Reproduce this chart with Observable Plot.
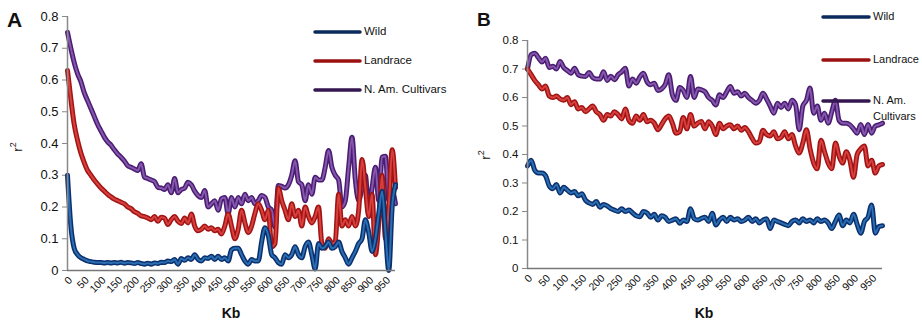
<!DOCTYPE html>
<html><head><meta charset="utf-8">
<script src="https://cdn.jsdelivr.net/npm/d3@7"></script>
<script src="https://cdn.jsdelivr.net/npm/@observablehq/plot@0.6"></script>
<style>
body{margin:0;background:#fff;font-family:"Liberation Sans",Arial,sans-serif}
#wrap{position:relative;width:922px;height:326px;overflow:hidden;background:#fff}
#a{position:absolute;left:0;top:0}
#b{position:absolute;left:461px;top:0}
#ov{position:absolute;left:0;top:0;pointer-events:none}
</style></head><body>
<div id="wrap"><div id="a"></div><div id="b"></div><svg id="ov" width="922" height="326"></svg></div>
<script>
// Distance categories (kb), one every 10 kb
const kb = d3.range(0, 981, 10);
const xTicks = [0,50,100,150,200,250,300,350,400,450,500,550,600,650,700,750,800,850,900,950];
const yTicks = [0,0.1,0.2,0.3,0.4,0.5,0.6,0.7,0.8];
const seriesNames = ["Wild","Landrace","N. Am. Cultivars"];

// Panel A values (r²)
const wildA = [0.30,0.14,0.07,0.05,0.04,0.035,0.03,0.028,0.026,0.025,
0.025,0.024,0.025,0.024,0.025,0.024,0.026,0.023,0.025,0.024,
0.022,0.025,0.022,0.02,0.023,0.02,0.024,0.022,0.026,0.025,
0.03,0.028,0.035,0.02,0.038,0.032,0.04,0.035,0.05,0.035,
0.03,0.04,0.038,0.045,0.035,0.045,0.035,0.04,0.03,0.065,
0.07,0.07,0.05,0.03,0.02,0.035,0.03,0.03,0.09,0.135,
0.11,0.05,0.04,0.025,0.02,0.05,0.04,0.05,0.075,0.05,
0.04,0.075,0.09,0.05,0.005,0.085,0.07,0.075,0.09,0.07,
0.075,0.09,0.06,0.04,0.02,0.04,0.06,0.085,0.1,0.16,
0.12,0.06,0.1,0.18,0.25,0.12,0.0,0.2,0.27];
const landraceA = [0.63,0.54,0.46,0.41,0.37,0.34,0.315,0.30,0.285,0.272,
0.26,0.25,0.24,0.232,0.225,0.22,0.215,0.21,0.2,0.195,
0.185,0.18,0.172,0.17,0.165,0.16,0.17,0.155,0.168,0.165,
0.145,0.16,0.17,0.155,0.148,0.165,0.15,0.178,0.14,0.125,
0.13,0.14,0.13,0.135,0.125,0.13,0.115,0.14,0.178,0.14,
0.10,0.13,0.19,0.15,0.12,0.14,0.18,0.21,0.19,0.16,
0.19,0.075,0.085,0.26,0.22,0.19,0.16,0.21,0.17,0.19,
0.14,0.2,0.17,0.15,0.17,0.2,0.085,0.07,0.1,0.085,
0.09,0.24,0.14,0.16,0.14,0.17,0.14,0.19,0.35,0.26,
0.17,0.24,0.05,0.15,0.3,0.1,0.2,0.38,0.26];
const cultivarsA = [0.75,0.70,0.655,0.62,0.595,0.56,0.535,0.51,0.485,0.46,
0.44,0.42,0.405,0.395,0.38,0.367,0.357,0.345,0.33,0.325,
0.32,0.315,0.336,0.294,0.29,0.285,0.28,0.262,0.26,0.255,
0.27,0.245,0.29,0.245,0.255,0.26,0.278,0.27,0.25,0.236,
0.23,0.252,0.2,0.21,0.22,0.19,0.226,0.23,0.178,0.23,
0.2,0.23,0.21,0.24,0.22,0.23,0.21,0.22,0.236,0.23,
0.2,0.19,0.136,0.268,0.265,0.26,0.27,0.3,0.346,0.28,
0.27,0.22,0.27,0.24,0.294,0.285,0.285,0.325,0.378,0.325,
0.3,0.285,0.2,0.22,0.325,0.42,0.285,0.22,0.26,0.3,
0.19,0.26,0.325,0.22,0.357,0.36,0.22,0.25,0.21];

// Panel B values (r²)
const wildB = [0.36,0.38,0.345,0.335,0.335,0.325,0.29,0.28,0.295,0.265,
0.285,0.275,0.265,0.27,0.255,0.262,0.24,0.23,0.225,0.235,
0.215,0.225,0.22,0.21,0.205,0.2,0.21,0.2,0.205,0.195,
0.185,0.182,0.2,0.195,0.18,0.19,0.17,0.185,0.18,0.165,
0.17,0.175,0.159,0.17,0.165,0.21,0.175,0.17,0.176,0.18,
0.165,0.194,0.153,0.17,0.18,0.165,0.18,0.17,0.175,0.165,
0.17,0.18,0.165,0.175,0.16,0.17,0.175,0.14,0.17,0.165,
0.16,0.155,0.15,0.165,0.17,0.16,0.175,0.165,0.17,0.16,
0.175,0.165,0.17,0.16,0.14,0.165,0.188,0.15,0.17,0.16,
0.19,0.155,0.124,0.165,0.18,0.223,0.124,0.147,0.15];
const landraceB = [0.70,0.68,0.66,0.645,0.63,0.64,0.605,0.60,0.605,0.595,
0.59,0.60,0.575,0.585,0.56,0.565,0.55,0.56,0.57,0.55,
0.54,0.52,0.54,0.535,0.55,0.54,0.525,0.56,0.52,0.51,
0.535,0.52,0.54,0.515,0.52,0.51,0.487,0.505,0.525,0.535,
0.51,0.475,0.48,0.53,0.49,0.54,0.5,0.51,0.516,0.49,
0.515,0.5,0.47,0.51,0.49,0.5,0.504,0.49,0.5,0.485,
0.495,0.48,0.457,0.44,0.445,0.485,0.47,0.465,0.48,0.455,
0.46,0.48,0.455,0.47,0.43,0.405,0.44,0.487,0.42,0.37,
0.35,0.45,0.41,0.37,0.35,0.44,0.395,0.37,0.41,0.38,
0.32,0.40,0.42,0.43,0.36,0.38,0.335,0.36,0.365];
const cultivarsB = [0.70,0.75,0.755,0.74,0.725,0.738,0.705,0.71,0.70,0.726,
0.705,0.695,0.685,0.703,0.68,0.675,0.674,0.688,0.67,0.665,
0.665,0.69,0.66,0.675,0.662,0.68,0.69,0.703,0.64,0.665,
0.65,0.672,0.685,0.655,0.645,0.65,0.625,0.63,0.645,0.68,
0.61,0.59,0.635,0.625,0.6,0.674,0.6,0.63,0.627,0.62,
0.6,0.59,0.574,0.61,0.6,0.62,0.639,0.615,0.62,0.605,
0.615,0.6,0.59,0.58,0.59,0.615,0.595,0.57,0.545,0.58,
0.565,0.58,0.56,0.59,0.575,0.487,0.57,0.59,0.633,0.545,
0.57,0.52,0.545,0.51,0.55,0.59,0.52,0.51,0.51,0.504,
0.49,0.475,0.505,0.47,0.505,0.475,0.5,0.504,0.51];

const colors = {
  "Wild": {outer:"#0c2f6e", inner:"#2a6fb2", legend:"#0b2a5c"},
  "Landrace": {outer:"#a01414", inner:"#d8403e", legend:"#9b1010"},
  "N. Am. Cultivars": {outer:"#4a1d72", inner:"#8557ad", legend:"#35164f"}
};

function tidy(arrs) {
  const rows = [];
  seriesNames.forEach((s, i) => arrs[i].forEach((v, j) => rows.push({kb: kb[j], r2: v, series: s})));
  return rows;
}

function panel(data, o) {
  const lineMarks = [];
  ["N. Am. Cultivars","Landrace","Wild"].forEach(s => {
    const d = data.filter(r => r.series === s);
    lineMarks.push(Plot.line(d, {x:"kb", y:"r2", stroke: colors[s].outer, strokeWidth: 5, curve:"monotone-x", strokeLinejoin:"round", strokeLinecap:"round"}));
    lineMarks.push(Plot.line(d, {x:"kb", y:"r2", stroke: colors[s].inner, strokeWidth: 2, curve:"monotone-x", strokeLinejoin:"round", strokeLinecap:"round"}));
  });
  return Plot.plot({
    width: o.width, height: 326,
    marginLeft: o.ml, marginRight: o.mr, marginTop: o.mt, marginBottom: o.mb,
    x: {domain: [0, 980]},
    y: {domain: [0, 0.8]},
    style: {fontFamily: '"Liberation Sans", Arial, sans-serif', color: "#111", background: "transparent", overflow: "visible"},
    marks: [
      Plot.axisY({ticks: yTicks, tickSize: 5, tickPadding: 4, stroke: "#888", fontSize: o.fy, label: null,
        tickFormat: d => d === 0 ? "0" : d.toFixed(1)}),
      Plot.axisX({ticks: xTicks, tickSize: 0, tickPadding: 8, tickRotate: -45, fontSize: o.fx, label: null,
        tickFormat: d => String(d), dx: 3}),
      ...lineMarks,
      Plot.ruleX([0], {stroke: "#888", strokeWidth: 1.5}),
      Plot.ruleY([0], {stroke: "#777", strokeWidth: 1.5})
    ]
  });
}

document.getElementById("a").appendChild(panel(tidy([wildA, landraceA, cultivarsA]),
  {width: 460, ml: 67, mr: 65, mt: 16, mb: 56, fy: 13, fx: 10.5}));
document.getElementById("b").appendChild(panel(tidy([wildB, landraceB, cultivarsB]),
  {width: 461, ml: 66, mr: 40, mt: 40, mb: 58, fy: 11.5, fx: 10.5}));

// Overlay texts and legends
const ov = d3.select("#ov").style("font-family", '"Liberation Sans", Arial, sans-serif');
ov.append("text").attr("x", 7).attr("y", 27).attr("font-size", 21).attr("font-weight", "bold").attr("fill", "#111").text("A");
ov.append("text").attr("x", 477).attr("y", 26).attr("font-size", 19).attr("font-weight", "bold").attr("fill", "#111").text("B");

function ylab(cx, cy) {
  const t = ov.append("text").attr("transform", `translate(${cx},${cy}) rotate(-90)`).attr("text-anchor", "middle")
    .attr("dominant-baseline", "middle").attr("font-size", 13).attr("fill", "#111");
  t.append("tspan").text("r");
  t.append("tspan").attr("font-size", 9).attr("dy", -5).text("2");
}
ylab(19, 147);
ylab(487, 155);
ov.append("text").attr("x", 231).attr("y", 318).attr("text-anchor", "middle").attr("font-size", 14).attr("font-weight", "bold").attr("fill", "#111").text("Kb");
ov.append("text").attr("x", 704).attr("y", 318).attr("text-anchor", "middle").attr("font-size", 14).attr("font-weight", "bold").attr("fill", "#111").text("Kb");

function legendItem(x1, x2, y, s, lines, fs) {
  ov.append("line").attr("x1", x1).attr("x2", x2).attr("y1", y).attr("y2", y)
    .attr("stroke", colors[s].legend).attr("stroke-width", 3.5).attr("stroke-linecap", "round");
  lines.forEach((txt, i) => ov.append("text").attr("x", x2 + 4).attr("y", y + i * 16).attr("dominant-baseline", "middle")
    .attr("font-size", fs).attr("fill", "#111").text(txt));
}
legendItem(315, 360, 32, "Wild", ["Wild"], 11.5);
legendItem(315, 360, 61, "Landrace", ["Landrace"], 11.5);
legendItem(315, 360, 90, "N. Am. Cultivars", ["N. Am. Cultivars"], 11.5);
legendItem(823, 869, 17, "Wild", ["Wild"], 11);
legendItem(823, 869, 60, "Landrace", ["Landrace"], 11);
legendItem(823, 869, 101, "N. Am. Cultivars", ["N. Am.", "Cultivars"], 11);
</script>
</body></html>
